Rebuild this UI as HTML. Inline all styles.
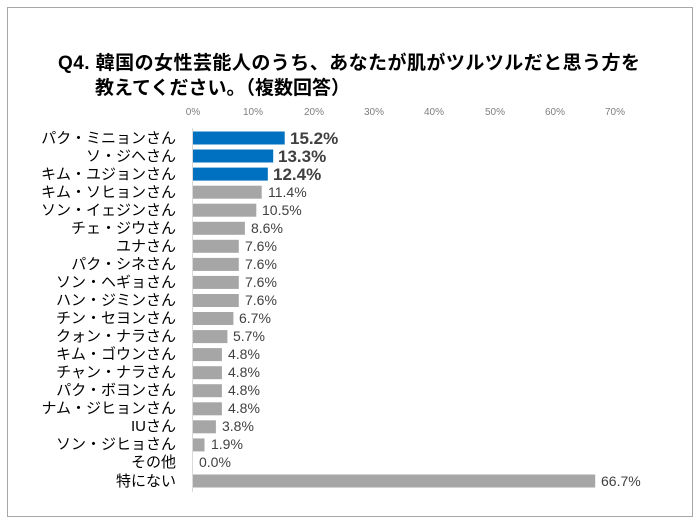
<!DOCTYPE html>
<html><head><meta charset="utf-8"><style>
body{margin:0;background:#fff;width:700px;height:524px;overflow:hidden}
</style></head><body>
<svg width="700" height="524" xmlns="http://www.w3.org/2000/svg" font-family="Liberation Sans, Noto Sans CJK JP, sans-serif">
<rect x="7.5" y="7.5" width="685" height="509" fill="#fff" stroke="#a6a6a6" stroke-width="1"/>
<text x="58" y="69" font-size="19" font-weight="bold" fill="#000" textLength="582">Q4. 韓国の女性芸能人のうち、あなたが肌がツルツルだと思う方を</text>
<text x="95" y="94" font-size="19" font-weight="bold" fill="#000">教えてください。（複数回答）</text>
<g font-size="10" fill="#7f7f7f" text-anchor="middle">
<text x="193" y="115">0%</text><text x="253" y="115">10%</text><text x="314" y="115">20%</text><text x="374" y="115">30%</text><text x="434" y="115">40%</text><text x="495" y="115">50%</text><text x="555" y="115">60%</text><text x="615" y="115">70%</text>
</g>
<line x1="192.5" y1="128" x2="192.5" y2="492" stroke="#d9d9d9"/>
<g font-size="15" fill="#000" text-anchor="end">
<text x="176" y="143">パク・ミニョンさん</text>
<text x="176" y="161">ソ・ジヘさん</text>
<text x="176" y="179">キム・ユジョンさん</text>
<text x="176" y="197">キム・ソヒョンさん</text>
<text x="176" y="215">ソン・イェジンさん</text>
<text x="176" y="233">チェ・ジウさん</text>
<text x="176" y="251">ユナさん</text>
<text x="176" y="269">パク・シネさん</text>
<text x="176" y="287">ソン・ヘギョさん</text>
<text x="176" y="305">ハン・ジミンさん</text>
<text x="176" y="323">チン・セヨンさん</text>
<text x="176" y="341">クォン・ナラさん</text>
<text x="176" y="359">キム・ゴウンさん</text>
<text x="176" y="377">チャン・ナラさん</text>
<text x="176" y="395">パク・ボヨンさん</text>
<text x="176" y="413">ナム・ジヒョンさん</text>
<text x="176" y="431">IUさん</text>
<text x="176" y="449">ソン・ジヒョさん</text>
<text x="176" y="467">その他</text>
<text x="176" y="486">特にない</text>
</g>
<g fill="#0070c0">
<rect x="193" y="131.5" width="91.7" height="13"/>
<rect x="193" y="149.5" width="80.2" height="13"/>
<rect x="193" y="167.6" width="74.8" height="13"/>
</g>
<g fill="#a6a6a6">
<rect x="193" y="185.7" width="68.7" height="13"/>
<rect x="193" y="203.7" width="63.3" height="13"/>
<rect x="193" y="221.8" width="51.9" height="13"/>
<rect x="193" y="239.8" width="45.8" height="13"/>
<rect x="193" y="257.9" width="45.8" height="13"/>
<rect x="193" y="275.9" width="45.8" height="13"/>
<rect x="193" y="294" width="45.8" height="13"/>
<rect x="193" y="312" width="40.4" height="13"/>
<rect x="193" y="330.1" width="34.4" height="13"/>
<rect x="193" y="348.1" width="28.9" height="13"/>
<rect x="193" y="366.2" width="28.9" height="13"/>
<rect x="193" y="384.2" width="28.9" height="13"/>
<rect x="193" y="402.3" width="28.9" height="13"/>
<rect x="193" y="420.3" width="22.9" height="13"/>
<rect x="193" y="438.4" width="11.5" height="13"/>
<rect x="193" y="474.5" width="402.2" height="13"/>
</g>
<g fill="#404040" font-size="17" font-weight="bold">
<text x="290" y="144">15.2%</text>
<text x="278" y="162">13.3%</text>
<text x="273" y="180">12.4%</text>
</g>
<g fill="#404040" font-size="14">
<text x="268" y="197">11.4%</text>
<text x="262" y="215">10.5%</text>
<text x="251" y="233">8.6%</text>
<text x="245" y="251">7.6%</text>
<text x="245" y="269">7.6%</text>
<text x="245" y="287">7.6%</text>
<text x="245" y="305">7.6%</text>
<text x="239" y="323">6.7%</text>
<text x="233" y="341">5.7%</text>
<text x="228" y="359">4.8%</text>
<text x="228" y="377">4.8%</text>
<text x="228" y="395">4.8%</text>
<text x="228" y="413">4.8%</text>
<text x="222" y="431">3.8%</text>
<text x="211" y="449">1.9%</text>
<text x="199" y="467">0.0%</text>
<text x="601" y="486">66.7%</text>
</g>
</svg>
</body></html>
